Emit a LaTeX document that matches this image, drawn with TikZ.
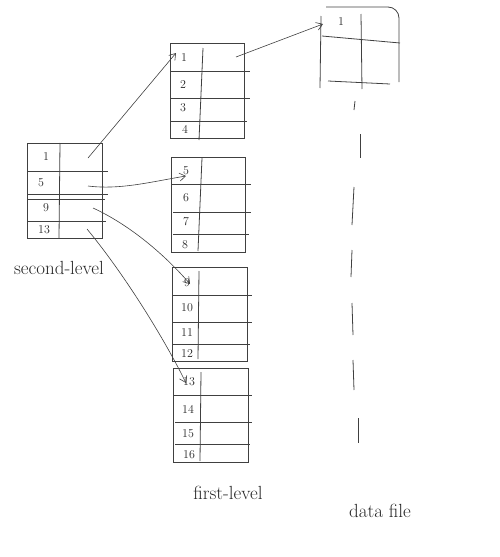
\documentclass[tikz,border=0pt]{standalone}
\usepackage{tikz}
\usetikzlibrary{arrows.meta}

\tikzset{
  sketch/.style={draw=black!75, line width=0.8pt},
  num/.style={font=\fontsize{12}{13}\selectfont, text=black!85, inner sep=0pt},
  caption/.style={font=\fontsize{19}{21}\selectfont, text=black!85, inner sep=0pt},
  link/.style={sketch, -{Straight Barb[length=6pt,width=8pt]}, line width=0.6pt}
}

\begin{document}
\begin{tikzpicture}[x=1pt,y=-1pt]
\useasboundingbox (0,0) rectangle (500,557);

% second-level index
\draw[sketch] (27,143) rectangle (102,238);
\draw[sketch] (27,171) -- (108,171);
\draw[sketch] (27,194) -- (108,194);
\draw[sketch] (27,199) -- (105,199);
\draw[sketch] (27,221) -- (106,221);
\draw[sketch] (60,143) -- (59,238);
\node[num] (s1n) at (46,157) {1};
\node[num] (s5n) at (41,183) {5};
\node[num] (s9n) at (46,208) {9};
\node[num] (s13n) at (44,230) {13};
\node[caption] (second) at (59,268) {second-level};

% first-level index, block 1
\draw[sketch] (170,43) rectangle (244,138);
\draw[sketch] (170,71) -- (250,71);
\draw[sketch] (170,98) -- (250,98);
\draw[sketch] (170,121) -- (247,121);
\draw[sketch] (203,48) -- (199,140);
\node[num] (f1n) at (184,58) {1};
\node[num] (f2n) at (183,85) {2};
\node[num] (f3n) at (183,108) {3};
\node[num] (f4n) at (185,129) {4};

% first-level index, block 2
\draw[sketch] (171,157) rectangle (245,252);
\draw[sketch] (171,184) -- (251,184);
\draw[sketch] (173,212) -- (251,212);
\draw[sketch] (173,234) -- (249,234);
\draw[sketch] (202,158) -- (198,251);
\node[num] (f5n) at (186,171) {5};
\node[num] (f6n) at (186,198) {6};
\node[num] (f7n) at (186,222) {7};
\node[num] (f8n) at (185,245) {8};

% first-level index, block 3
\draw[sketch] (172,267) rectangle (247,361);
\draw[sketch] (172,295) -- (252,295);
\draw[sketch] (172,322) -- (252,322);
\draw[sketch] (172,344) -- (250,344);
\draw[sketch] (199,271) -- (198,359);
\node[num] (f9n) at (187,283) {9};
\node[num] (f10n) at (187,308) {10};
\node[num] (f11n) at (187,333) {11};
\node[num] (f12n) at (187,354) {12};

% first-level index, block 4
\draw[sketch] (173,368) rectangle (248,462);
\draw[sketch] (173,395) -- (252,395);
\draw[sketch] (175,422) -- (252,422);
\draw[sketch] (175,444) -- (250,444);
\draw[sketch] (201,372) -- (200,461);
\node[num] (f13n) at (189,382) {13};
\node[num] (f14n) at (188,409) {14};
\node[num] (f15n) at (188,434) {15};
\node[num] (f16n) at (189,455) {16};
\node[caption] (first) at (228,493) {first-level};

% data file
\draw[sketch] (326,7) -- (388,7) to[out=0,in=90] (399,18) -- (399,82);
\draw[sketch] (322,36) -- (400,43);
\draw[sketch] (328,81) -- (390,84);
\draw[sketch] (361,14) -- (362,89);
\draw[sketch] (321,16) -- (320,88);
\node[num] (d1n) at (341,22) {1};
\draw[sketch] (355,101) -- (354,110);
\draw[sketch] (360,134) -- (360,158);
\draw[sketch] (354,187) -- (352,225);
\draw[sketch] (352,250) -- (351,277);
\draw[sketch] (352,303) -- (353,335);
\draw[sketch] (353,360) -- (354,390);
\draw[sketch] (358,418) -- (358,443);
\node[caption] (data) at (380,511) {data file};

% pointers
\coordinate (s1) at (88,158);
\coordinate (s2) at (88,186);
\coordinate (s3) at (93,208);
\coordinate (s4) at (87,229);
\coordinate (f1) at (176,53);
\coordinate (f5) at (186,176);
\coordinate (f9) at (190,284);
\coordinate (f13) at (186,383);
\coordinate (f1r) at (236,57);
\coordinate (d1) at (323,24);
\draw[link] (s1) -- (f1);
\draw[link] (s2) .. controls (120,190) and (150,182) .. (f5);
\draw[link] (s3) .. controls (130,225) and (165,255) .. (f9);
\draw[link] (s4) .. controls (125,275) and (165,340) .. (f13);
\draw[link] (f1r) -- (d1);
\end{tikzpicture}
\end{document}
